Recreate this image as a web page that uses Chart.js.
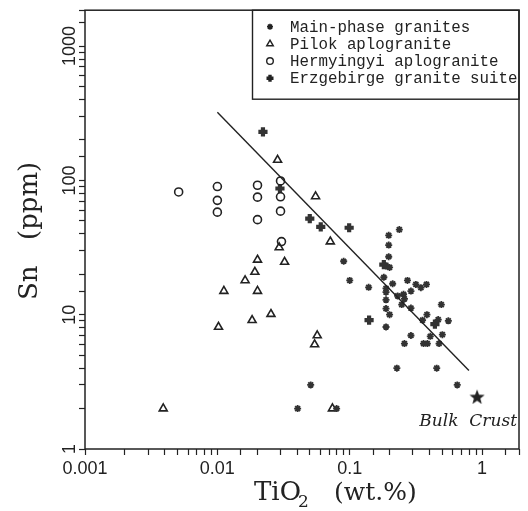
<!DOCTYPE html>
<html>
<head>
<meta charset="utf-8">
<script src="https://cdn.jsdelivr.net/npm/chart.js@4.4.0/dist/chart.umd.min.js"></script>
<style>
  html, body { margin: 0; padding: 0; background: #fff; }
</style>
</head>
<body>
<canvas id="snChart" width="528" height="511"></canvas>
<script>
// Main-phase granites
const mainTiO2 = [0.237, 0.197, 0.197, 0.197, 0.188, 0.200, 0.090, 0.100, 0.139, 0.181,
  0.211, 0.188, 0.188, 0.188, 0.230, 0.255, 0.273, 0.290, 0.316, 0.345,
  0.380, 0.259, 0.247, 0.188, 0.200, 0.290, 0.383, 0.492, 0.355, 0.466,
  0.556, 0.501, 0.406, 0.188, 0.290, 0.259, 0.361, 0.386, 0.473, 0.227,
  0.454, 0.649, 0.0507, 0.0404, 0.0796];
const mainSn = [43, 39, 33, 27, 23, 22.5, 25, 18, 16, 19,
  17, 15.7, 14.7, 12.9, 13.8, 14.2, 18, 15, 16.8, 15.9,
  16.8, 13.1, 11.9, 11.1, 10.0, 11.2, 10.0, 11.9, 9.1, 9.2,
  9.0, 7.1, 6.9, 8.1, 7.0, 6.1, 6.1, 6.1, 6.1, 4.0,
  4.0, 3.0, 3.0, 2.0, 2.0];

// Pilok aplogranite
const pilokTiO2 = [0.0039, 0.0102, 0.0112, 0.0162, 0.0183, 0.0192, 0.0201, 0.0201, 0.0254,
  0.0293, 0.0322, 0.0285, 0.0552, 0.0713, 0.0568, 0.0543, 0.074];
const pilokSn = [2.0, 8.1, 15.0, 18.0, 9.1, 20.8, 25.6, 15.0, 10.1,
  31.7, 24.7, 142, 76, 35, 7.0, 6.0, 2.0];

// Hermyingyi aplogranite
const hermTiO2 = [0.0051, 0.0100, 0.0100, 0.0100, 0.0201, 0.0201, 0.0201, 0.0300, 0.0300, 0.0300, 0.0305];
const hermSn = [82, 90, 71, 58, 92, 75, 51, 99, 75.5, 59, 35];

// Erzgebirge granite suite
const erzTiO2 = [0.0221, 0.0297, 0.0499, 0.0604, 0.099, 0.140, 0.181, 0.44];
const erzSn = [230, 87, 52, 45, 44.4, 9.1, 23.6, 8.5];

// regression line end points and bulk crust
const fitTiO2 = [0.01, 0.795];
const fitSn = [321, 3.84];
const bulkTiO2 = [0.917];
const bulkSn = [2.46];

const xTicks = [0.001, 0.01, 0.1, 1];
const yTicks = [1, 10, 100, 1000];

const ink = "#222";
const pts = (xs, ys) => xs.map((x, i) => ({ x: x, y: ys[i] }));

// filled five-point star used for the bulk crust marker
function makeStar(size) {
  const c = document.createElement("canvas");
  c.width = size;
  c.height = size;
  const g = c.getContext("2d");
  const r = size / 2, ri = r * 0.42;
  g.beginPath();
  for (let i = 0; i < 10; i++) {
    const rad = i % 2 ? ri : r;
    const a = -Math.PI / 2 + (i * Math.PI) / 5;
    g.lineTo(r + rad * Math.cos(a), r + 1 + rad * Math.sin(a));
  }
  g.closePath();
  g.fillStyle = ink;
  g.fill();
  return c;
}

const legendItems = [
  { label: "Main-phase granites", style: "star", radius: 3, width: 1.6 },
  { label: "Pilok aplogranite", style: "triangle", radius: 3.8, width: 1.4 },
  { label: "Hermyingyi aplogranite", style: "circle", radius: 3.3, width: 1.4 },
  { label: "Erzgebirge granite suite", style: "cross", radius: 3.5, width: 3.4 },
];

// frame, rotated y labels, axis titles, legend box and annotation
const decorations = {
  id: "decorations",
  afterDraw(chart) {
    const ctx = chart.ctx;
    const area = chart.chartArea;
    const ys = chart.scales.y;
    ctx.save();
    ctx.strokeStyle = ink;
    ctx.fillStyle = ink;
    ctx.lineWidth = 1.5;
    ctx.strokeRect(area.left, area.top, area.right - area.left, area.bottom - area.top);

    // y tick labels, rotated
    ctx.font = "18px 'Liberation Sans'";
    ctx.textAlign = "center";
    ctx.textBaseline = "alphabetic";
    yTicks.forEach((v) => {
      ctx.save();
      ctx.translate(75, ys.getPixelForValue(v));
      ctx.rotate(-Math.PI / 2);
      ctx.fillText(String(v), 0, 0);
      ctx.restore();
    });

    // y title
    ctx.font = "26px 'DejaVu Serif'";
    ctx.textAlign = "left";
    ctx.save();
    ctx.translate(37, 300);
    ctx.rotate(-Math.PI / 2);
    ctx.fillText("Sn", 0, 0);
    ctx.fillText("(ppm)", 60, 0);
    ctx.restore();

    // x title
    ctx.fillText("TiO", 254, 500);
    ctx.font = "17px 'DejaVu Serif'";
    ctx.fillText("2", 298, 507);
    ctx.font = "25px 'DejaVu Serif'";
    ctx.fillText("(wt.%)", 334, 500);

    // legend
    const lx = 252.5, ly = area.top, lw = area.right - lx, lh = 89;
    ctx.lineWidth = 1.4;
    ctx.strokeRect(lx, ly, lw, lh);
    ctx.font = "15.8px 'Liberation Mono'";
    legendItems.forEach((it, i) => {
      const base = 31.7 + i * 17.2;
      ctx.fillStyle = ink;
      ctx.fillText(it.label, 290, base);
      ctx.strokeStyle = ink;
      ctx.lineWidth = it.width;
      ctx.fillStyle = "rgba(0,0,0,0)";
      Chart.helpers.drawPoint(ctx, {
        pointStyle: it.style, radius: it.radius, borderWidth: it.width, rotation: 0,
      }, 270, base - 5);
    });

    // bulk crust annotation
    ctx.fillStyle = ink;
    ctx.font = "italic 17px 'DejaVu Serif'";
    ctx.textAlign = "right";
    ctx.fillText("Bulk  Crust", area.right - 2, ys.getPixelForValue(bulkSn[0]) + 30);
    ctx.restore();
  },
};

const ctx = document.getElementById("snChart").getContext("2d");
const chart = new Chart(ctx, {
  type: "scatter",
  data: {
    datasets: [
      {
        label: "fit",
        type: "line",
        data: pts(fitTiO2, fitSn),
        borderColor: ink,
        borderWidth: 1.4,
        pointRadius: 0,
        fill: false,
      },
      {
        label: "Main-phase granites",
        data: pts(mainTiO2, mainSn),
        pointStyle: "star",
        pointRadius: 3.5,
        borderWidth: 1.8,
        borderColor: "#333",
        backgroundColor: "#333",
      },
      {
        label: "Pilok aplogranite",
        data: pts(pilokTiO2, pilokSn),
        pointStyle: "triangle",
        pointRadius: 4.6,
        borderWidth: 1.6,
        borderColor: ink,
        backgroundColor: "rgba(255,255,255,0)",
      },
      {
        label: "Hermyingyi aplogranite",
        data: pts(hermTiO2, hermSn),
        pointStyle: "circle",
        pointRadius: 4,
        borderWidth: 1.6,
        borderColor: ink,
        backgroundColor: "rgba(255,255,255,0)",
      },
      {
        label: "Erzgebirge granite suite",
        data: pts(erzTiO2, erzSn),
        pointStyle: "cross",
        pointRadius: 4.6,
        borderWidth: 4.2,
        borderColor: "#333",
        backgroundColor: "#333",
      },
      {
        label: "Bulk Crust",
        data: pts(bulkTiO2, bulkSn),
        pointStyle: makeStar(16),
        pointRadius: 8,
      },
    ],
  },
  options: {
    responsive: false,
    animation: false,
    events: [],
    devicePixelRatio: 1,
    layout: { padding: { left: 0, right: 5.5, top: 7, bottom: 0 } },
    plugins: { legend: { display: false }, tooltip: { enabled: false } },
    scales: {
      x: {
        type: "logarithmic",
        min: 0.001,
        max: 1.9,
        border: { display: false },
        grid: { drawOnChartArea: false, tickLength: 6, tickColor: ink, tickWidth: 1.2 },
        ticks: {
          autoSkip: false,
          maxRotation: 0,
          minRotation: 0,
          padding: 3,
          color: ink,
          font: { family: "Liberation Sans", size: 18 },
          callback: (v) => {
            const t = xTicks.find((d) => Math.abs(d - v) / d < 1e-6);
            return t !== undefined ? String(t) : "";
          },
        },
        afterFit: (s) => { s.height = 62; },
      },
      y: {
        type: "logarithmic",
        min: 1,
        max: 1850,
        border: { display: false },
        grid: { drawOnChartArea: false, tickLength: 6, tickColor: ink, tickWidth: 1.2 },
        ticks: { autoSkip: false, callback: () => "" },
        afterFit: (s) => { s.width = 85; },
      },
    },
  },
  plugins: [decorations],
});
</script>
</body>
</html>
